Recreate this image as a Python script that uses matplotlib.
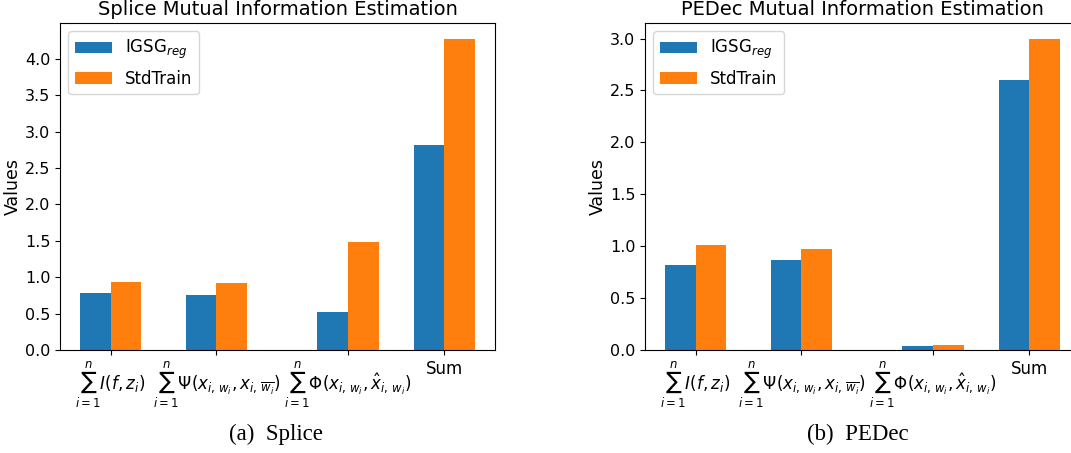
import matplotlib
matplotlib.use("Agg")
import matplotlib.pyplot as plt
import numpy as np

categories = [r'$\sum_{i=1}^{n} I(f, z_i)$',
              r'$\sum_{i=1}^{n} \Psi(x_{i,\, w_i}, x_{i,\, \overline{w_i}})$',
              r'$\sum_{i=1}^{n} \Phi(x_{i,\, w_i}, \hat{x}_{i,\, w_i})$',
              'Sum']
series_names = [r'IGSG$_{reg}$', 'StdTrain']
splice_igsg = [0.78, 0.75, 0.52, 2.82]
splice_std = [0.94, 0.92, 1.49, 4.28]
pedec_igsg = [0.82, 0.87, 0.04, 2.60]
pedec_std = [1.01, 0.97, 0.05, 3.00]
titles = ['Splice Mutual Information Estimation', 'PEDec Mutual Information Estimation']
captions = ['(a)  Splice', '(b)  PEDec']

W, H = 1071, 453
fig = plt.figure(figsize=(W / 100, H / 100), dpi=100)

positions = np.array([0.0, 1.03, 2.31, 3.25])
width = 0.3

def ax_rect(l, r, t, b):
    return [l / W, 1 - b / H, (r - l) / W, (b - t) / H]

rects = [ax_rect(60, 495, 23, 350), ax_rect(645, 1080, 23, 350)]
data = [(splice_igsg, splice_std), (pedec_igsg, pedec_std)]
cap_x = [276, 858]

for k in range(2):
    ax = fig.add_axes(rects[k])
    a, b = data[k]
    ax.bar(positions - width / 2, a, width, label=series_names[0], color='#1f77b4')
    ax.bar(positions + width / 2, b, width, label=series_names[1], color='#ff7f0e')
    ax.set_xticks(positions)
    ax.set_xticklabels(categories, fontsize=12)
    ax.tick_params(axis='y', labelsize=11.5)
    ax.set_ylabel('Values', fontsize=12.5, labelpad=2)
    ax.set_title(titles[k], fontsize=14)
    ax.legend(loc='upper left', fontsize=12, handlelength=2.2)
    fig.text(cap_x[k] / W, 1 - 434 / H, captions[k], ha='center', va='center',
             fontsize=16.5, family='Liberation Serif')

fig.savefig('out.png', dpi=100)
